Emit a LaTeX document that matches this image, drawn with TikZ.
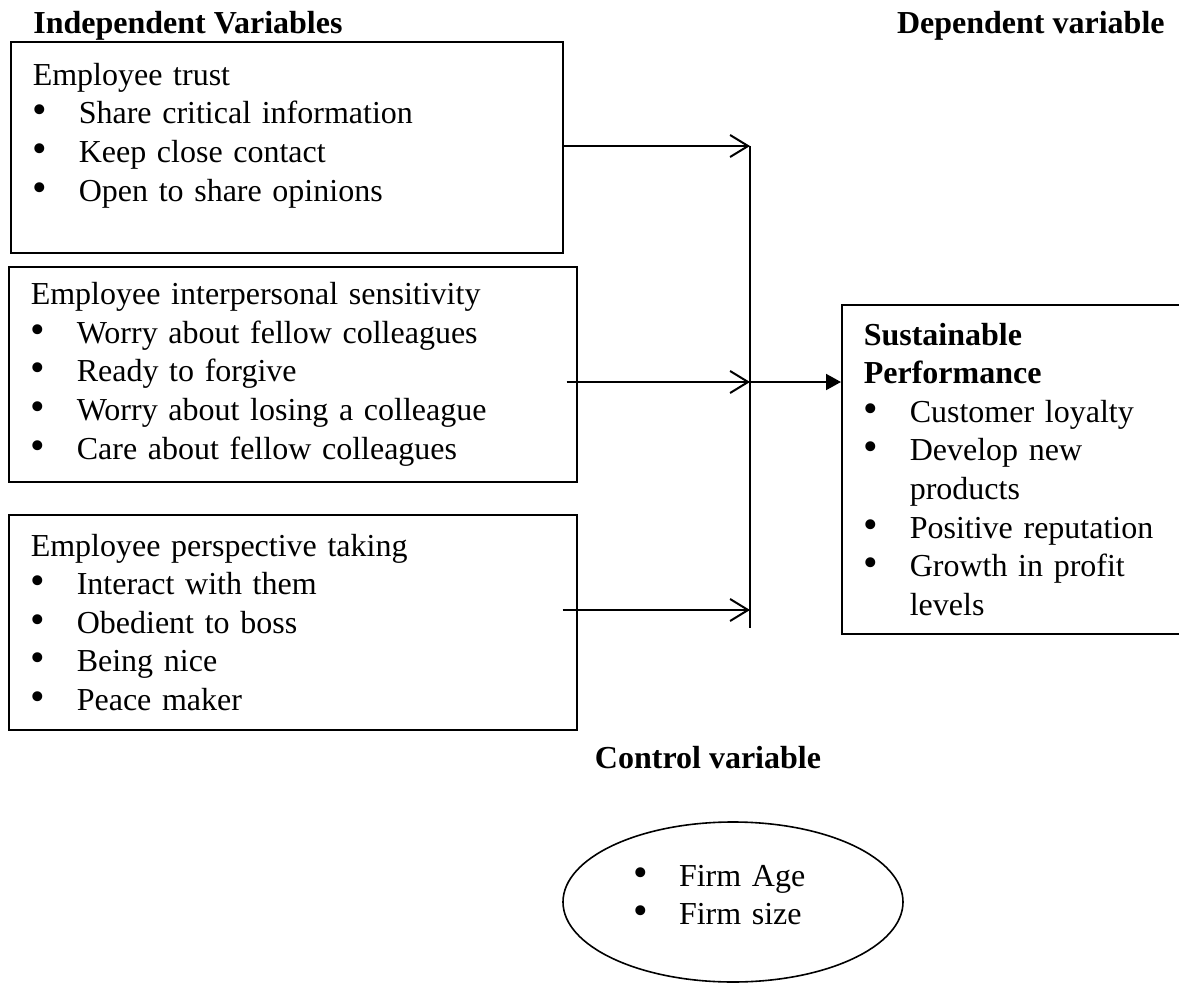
\documentclass[tikz,border=0pt]{standalone}
\usepackage{fontspec}
\setmainfont{Liberation Serif}
\usetikzlibrary{arrows.meta,shapes.geometric}
\newcommand{\itm}[1]{\makebox[23pt][l]{\scalebox{1.3}{\textbullet}}#1}
\newcommand{\cnt}{\hspace*{23pt}}
\tikzset{
  varbox/.style={draw, line width=0.8pt, anchor=north west, align=left,
    inner xsep=11pt, inner ysep=4pt, font=\fontsize{16pt}{19.3pt}\selectfont},
  headtxt/.style={inner sep=0pt, font=\fontsize{16pt}{19.3pt}\selectfont\bfseries},
  ctrlell/.style={draw, ellipse, line width=0.8pt, align=left,
    font=\fontsize{16pt}{19.3pt}\selectfont},
  openarr/.style={-{Straight Barb[length=9pt,width=11pt]}, line width=1pt},
  mainarr/.style={-{Triangle[length=7.5pt,width=8pt]}, line width=1pt},
  joinline/.style={line width=1pt}
}
\begin{document}
\begin{tikzpicture}[x=0.5pt, y=-0.5pt]
  \useasboundingbox (0,0) rectangle (1179,985);
  % headings
  \node[headtxt, anchor=base west] (indep) at (33,33) {Independent Variables};
  \node[headtxt, anchor=base east] (dep) at (1165,33) {Dependent variable};
  % independent variables
  \node[varbox, text width=254pt, minimum height=105.5pt] (trust) at (10,41)
    {Employee trust\\ \itm{Share critical information}\\ \itm{Keep close contact}\\
     \itm{Open to share opinions}\\[-4pt] \mbox{}};
  \node[varbox, text width=262pt, minimum height=107.5pt] (sens) at (8,266)
    {Employee interpersonal sensitivity\\ \itm{Worry about fellow colleagues}\\
     \itm{Ready to forgive}\\ \itm{Worry about losing a colleague}\\
     \itm{Care about fellow colleagues}};
  \node[varbox, text width=262pt, minimum height=107.5pt] (persp) at (8,514)
    {Employee perspective taking\\ \itm{Interact with them}\\ \itm{Obedient to boss}\\
     \itm{Being nice}\\ \itm{Peace maker}};
  % dependent variable
  \node[varbox, text width=159pt, minimum height=164.5pt] (perf) at (841,304)
    {\textbf{Sustainable}\\ \textbf{Performance}\\ \itm{Customer loyalty}\\
     \itm{Develop new}\\ \cnt products\\ \itm{Positive reputation}\\
     \itm{Growth in profit}\\ \cnt levels};
  % control variable
  \node[headtxt, anchor=base] (ctrlhead) at (708,768) {Control variable};
  \node[ctrlell, minimum width=170pt, minimum height=80pt, text width=100pt] (ctrl) at (733,902)
    {\itm{Firm Age}\\ \itm{Firm size}\\[-12pt] \mbox{}};
  % connectors
  \coordinate (spinetop) at (750,146);
  \coordinate (spinebot) at (750,628);
  \coordinate (j2) at (750,382);
  \coordinate (j3) at (750,610);
  \draw[joinline] (spinetop) -- (spinebot);
  \draw[openarr] (trust.east |- spinetop) -- (spinetop);
  \draw[openarr] ([xshift=-5.5pt]sens.east |- j2) -- (j2);
  \draw[openarr] ([xshift=-7.5pt]persp.east |- j3) -- (j3);
  \draw[mainarr] (j2) -- (perf.west |- j2);
\end{tikzpicture}
\end{document}
